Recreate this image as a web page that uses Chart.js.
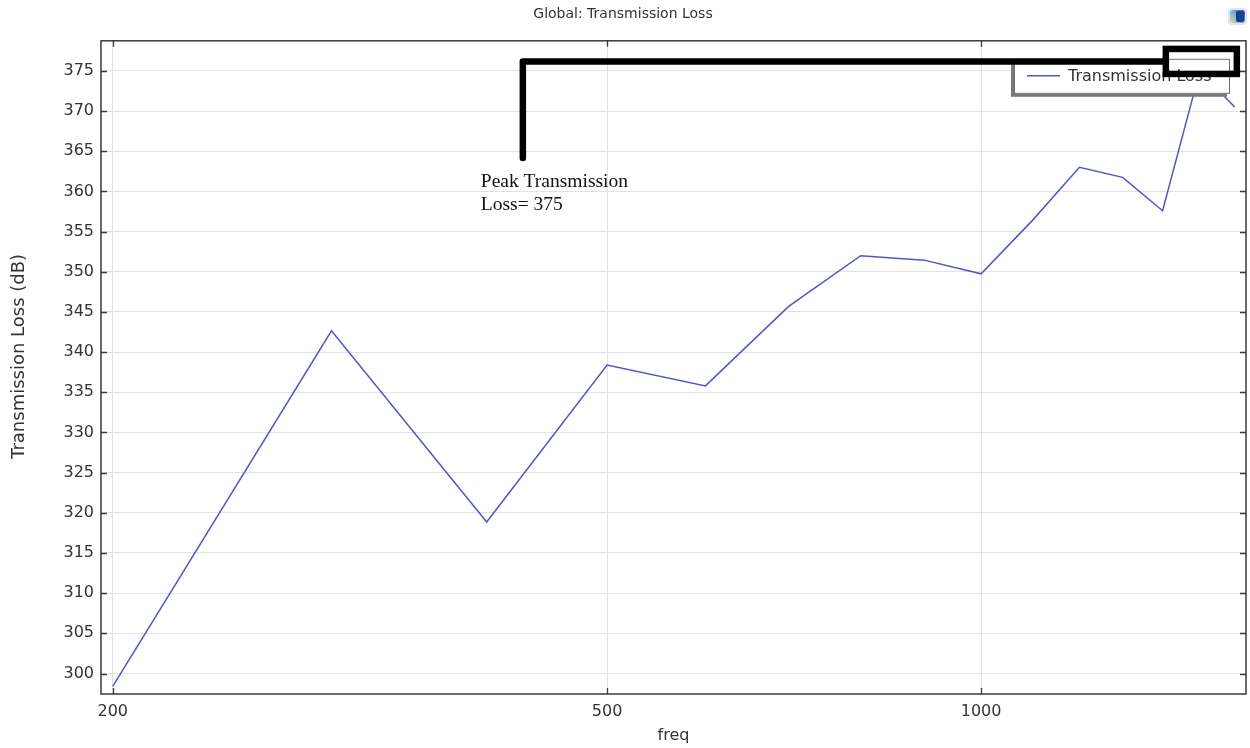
<!DOCTYPE html>
<html>
<head>
<meta charset="utf-8">
<script src="https://cdn.jsdelivr.net/npm/chart.js@4.4.0/dist/chart.umd.min.js"></script>
<style>
  html, body { margin: 0; padding: 0; background: #ffffff; }
  #wrap { width: 1250px; height: 748px; position: relative; }
</style>
</head>
<body>
<div id="wrap"><canvas id="chart" width="1250" height="748"></canvas></div>
<script>
// Frequency sweep (Hz) and the computed transmission loss (dB)
const freq = [200, 300, 400, 500, 600, 700, 800, 900, 1000, 1100, 1200, 1300, 1400, 1500, 1600];
const transmissionLoss = [298.4, 342.65, 318.85, 338.4, 335.8, 345.7, 352.0, 351.45, 349.75, 356.4, 363.0, 361.75, 357.6, 375, 370.5];

// Axis ticks
const freqTicks = [200, 500, 1000];
const lossTicks = [300, 305, 310, 315, 320, 325, 330, 335, 340, 345, 350, 355, 360, 365, 370, 375];

// Texts
const seriesName = 'Transmission Loss';
const chartTitle = 'Global: Transmission Loss';
const xTitle = 'freq';
const yTitle = 'Transmission Loss (dB)';
const peakNote = ['Peak Transmission', 'Loss= 375'];

const SANS = "'DejaVu Sans', sans-serif";
const SERIF = "'Liberation Serif', 'Times New Roman', serif";
const LINE_COLOR = '#5454c4';
const TEXT_COLOR = '#333333';

// Index of the highest loss value, used by the callout
const peakIndex = transmissionLoss.indexOf(Math.max(...transmissionLoss));

// Frame, inward ticks, legend, callout, y-axis title and the toolbar icon
const overlay = {
  id: 'overlay',
  afterDatasetsDraw(chart) {
    const { ctx, chartArea: a, scales: { x, y } } = chart;
    ctx.save();

    // plot frame
    ctx.strokeStyle = '#3a3a3a';
    ctx.lineWidth = 1.5;
    ctx.strokeRect(a.left, a.top, a.right - a.left, a.bottom - a.top);

    // inward tick marks on all four sides
    ctx.lineWidth = 1.3;
    ctx.beginPath();
    lossTicks.forEach(v => {
      const py = Math.round(y.getPixelForValue(v)) + 0.5;
      ctx.moveTo(a.left, py); ctx.lineTo(a.left + 6, py);
      ctx.moveTo(a.right, py); ctx.lineTo(a.right - 6, py);
    });
    freqTicks.forEach(v => {
      const px = Math.round(x.getPixelForValue(v)) + 0.5;
      ctx.moveTo(px, a.bottom); ctx.lineTo(px, a.bottom - 6);
      ctx.moveTo(px, a.top); ctx.lineTo(px, a.top + 6);
    });
    ctx.stroke();

    // legend box with shadow
    const lx = a.right - 232, ly = a.top + 18, lw = 216, lh = 35;
    ctx.fillStyle = '#7a7a7a';
    ctx.fillRect(lx - 3, ly + 3, lw, lh);
    ctx.fillStyle = '#ffffff';
    ctx.fillRect(lx, ly, lw, lh);
    ctx.strokeStyle = '#6e6e6e';
    ctx.lineWidth = 1;
    ctx.strokeRect(lx + 0.5, ly + 0.5, lw - 1, lh - 1);
    ctx.strokeStyle = LINE_COLOR;
    ctx.lineWidth = 1.5;
    ctx.beginPath();
    ctx.moveTo(lx + 13, ly + 17); ctx.lineTo(lx + 46, ly + 17);
    ctx.stroke();
    ctx.fillStyle = TEXT_COLOR;
    ctx.font = '16px ' + SANS;
    ctx.textAlign = 'left';
    ctx.textBaseline = 'middle';
    ctx.fillText(seriesName, lx + 54, ly + 18);

    // callout: box round the peak, bracket line and note
    const px = x.getPixelForValue(freq[peakIndex]);
    const py = y.getPixelForValue(transmissionLoss[peakIndex]);
    ctx.strokeStyle = '#000000';
    ctx.lineWidth = 6.5;
    ctx.lineJoin = 'miter';
    const bw = 71, bh = 25;
    const bx = px - 34, by = py - 22;
    ctx.strokeRect(bx, by, bw, bh);
    const barY = py - 9.5;
    const noteX = px - 677;
    ctx.lineCap = 'round';
    ctx.lineJoin = 'round';
    ctx.beginPath();
    ctx.moveTo(noteX, py + 87);
    ctx.lineTo(noteX, barY);
    ctx.lineTo(bx - 3, barY);
    ctx.stroke();
    ctx.fillStyle = '#111111';
    ctx.font = '19.5px ' + SERIF;
    ctx.textBaseline = 'alphabetic';
    ctx.fillText(peakNote[0], noteX - 42, py + 116);
    ctx.fillText(peakNote[1], noteX - 42, py + 139);

    // y-axis title
    ctx.save();
    ctx.translate(19, (a.top + a.bottom) / 2 - 11);
    ctx.rotate(-Math.PI / 2);
    ctx.fillStyle = TEXT_COLOR;
    ctx.font = '18px ' + SANS;
    ctx.textAlign = 'center';
    ctx.textBaseline = 'middle';
    ctx.fillText(yTitle, 0, 0);
    ctx.restore();

    // small toolbar icon in the corner
    const ix = 1230, iy = 10, iw = 15, ih = 13;
    const g = ctx.createLinearGradient(ix, iy + ih, ix + iw, iy);
    g.addColorStop(0, '#e6e27a');
    g.addColorStop(0.45, '#7fb0d8');
    g.addColorStop(1, '#1f4fa8');
    ctx.fillStyle = '#dfe6f2';
    ctx.beginPath();
    ctx.roundRect(ix - 2, iy - 2, iw + 4, ih + 4, 4);
    ctx.fill();
    ctx.fillStyle = g;
    ctx.beginPath();
    ctx.roundRect(ix, iy, iw, ih, 3);
    ctx.fill();
    ctx.fillStyle = '#1a3f8c';
    ctx.beginPath();
    ctx.roundRect(ix + 6, iy + 1, iw - 7, ih - 2, 2);
    ctx.fill();

    ctx.restore();
  }
};

new Chart(document.getElementById('chart'), {
  type: 'line',
  data: {
    datasets: [{
      label: seriesName,
      data: freq.map((f, i) => ({ x: f, y: transmissionLoss[i] })),
      borderColor: LINE_COLOR,
      borderWidth: 1.5,
      pointRadius: 0,
      tension: 0,
      fill: false
    }]
  },
  options: {
    responsive: false,
    animation: false,
    devicePixelRatio: 1,
    layout: { padding: { left: 0, right: 4, top: 0, bottom: 0 } },
    plugins: {
      legend: { display: false },
      tooltip: { enabled: false },
      title: {
        display: true,
        text: chartTitle,
        color: TEXT_COLOR,
        font: { family: SANS, size: 14, weight: 'normal' },
        padding: { top: 6, bottom: 18 }
      }
    },
    scales: {
      x: {
        type: 'logarithmic',
        min: 195.7,
        max: 1634,
        afterBuildTicks: s => { s.ticks = freqTicks.map(v => ({ value: v })); },
        afterFit: s => { s.height = 54; },
        ticks: {
          callback: v => String(v),
          color: TEXT_COLOR,
          font: { family: SANS, size: 16 },
          padding: 8,
          maxRotation: 0,
          autoSkip: false
        },
        grid: { color: '#e2e2e2', lineWidth: 1, drawTicks: false },
        border: { display: false },
        title: {
          display: true,
          text: xTitle,
          color: TEXT_COLOR,
          font: { family: SANS, size: 16 },
          padding: { top: 0, bottom: 3 }
        }
      },
      y: {
        type: 'linear',
        min: 297.45,
        max: 378.75,
        afterBuildTicks: s => { s.ticks = lossTicks.map(v => ({ value: v })); },
        afterFit: s => { s.width = 101; },
        ticks: {
          color: TEXT_COLOR,
          font: { family: SANS, size: 16 },
          padding: 7
        },
        grid: { color: '#e2e2e2', lineWidth: 1, drawTicks: false },
        border: { display: false }
      }
    }
  },
  plugins: [overlay]
});
</script>
</body>
</html>
